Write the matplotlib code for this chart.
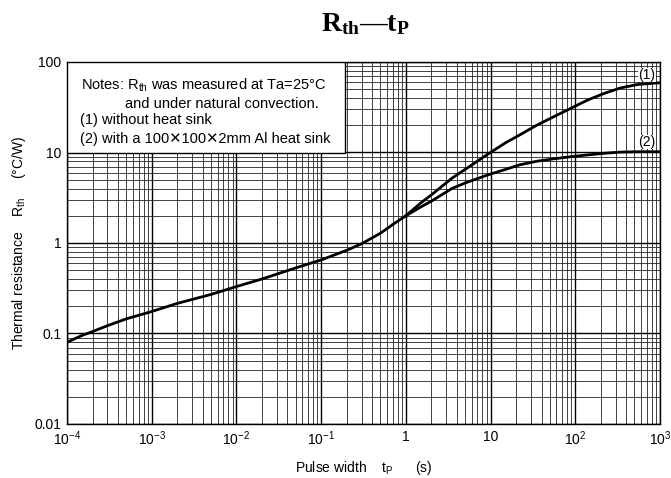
import numpy as np
import matplotlib.pyplot as plt
from matplotlib.ticker import LogLocator, NullFormatter, FixedLocator

plt.rcParams['font.family'] = ['Liberation Sans', 'DejaVu Sans']
plt.rcParams['mathtext.fontset'] = 'custom'
plt.rcParams['mathtext.rm'] = 'Liberation Sans'
plt.rcParams['mathtext.it'] = 'Liberation Sans:italic'
plt.rcParams['mathtext.bf'] = 'Liberation Serif:bold'

# shared part of the curve (pulse width s, Rth C/W)
tp_common = [1e-4, 1.5e-4, 2e-4, 3e-4, 5e-4, 1e-3, 2e-3, 5e-3, 1e-2, 2e-2, 5e-2,
             0.1, 0.2, 0.3, 0.5, 0.7, 1.0]
rth_common = [0.080, 0.095, 0.105, 0.122, 0.145, 0.175, 0.215, 0.27, 0.33, 0.40, 0.53,
              0.65, 0.83, 0.98, 1.28, 1.6, 2.0]

# branches after ~1 s
tp_branch = [1.0, 1.5, 2, 3.5, 5, 9, 15, 22, 35, 55, 90, 140, 220, 340, 550, 1000]
rth_1 = [2.0, 2.77, 3.4, 5.2, 6.5, 9.4, 12.8, 15.6, 20, 24.7, 31, 38, 45, 51.6, 56.5, 59]  # no heat sink
rth_2 = [2.0, 2.5, 2.9, 4.0, 4.6, 5.6, 6.5, 7.3, 8.0, 8.5, 9.0, 9.4, 9.8, 10.1, 10.2, 10.2]  # Al sink

xticks = [1e-4, 1e-3, 1e-2, 1e-1, 1, 10, 1e2, 1e3]
xlabels = ['10$^{-4}$', '10$^{-3}$', '10$^{-2}$', '10$^{-1}$', '1', '10', '10$^{2}$', '10$^{3}$']
yticks = [0.01, 0.1, 1, 10, 100]
ylabels = ['0.01', '0.1', '1', '10', '100']

fig = plt.figure(figsize=(6.71, 4.78), dpi=100)
ax = fig.add_axes([0.0999, 0.113, 0.8837, 0.7573])
ax.set_xscale('log')
ax.set_yscale('log')
ax.set_xlim(1e-4, 1e3)
ax.set_ylim(0.01, 100)

ax.xaxis.set_major_locator(FixedLocator(xticks))
ax.set_xticklabels(xlabels)
ax.yaxis.set_major_locator(FixedLocator(yticks))
ax.set_yticklabels(ylabels)
ax.xaxis.set_minor_locator(LogLocator(base=10, subs=np.arange(2, 10), numticks=20))
ax.yaxis.set_minor_locator(LogLocator(base=10, subs=np.arange(2, 10), numticks=20))
ax.xaxis.set_minor_formatter(NullFormatter())
ax.yaxis.set_minor_formatter(NullFormatter())
ax.tick_params(which='both', length=0, labelsize=10, pad=4)

ax.grid(which='major', color='black', linewidth=1.0)
ax.grid(which='minor', color='#222222', linewidth=0.6)
for s in ax.spines.values():
    s.set_linewidth(1.0)

ax.plot(tp_common, rth_common, color='black', linewidth=2.0, zorder=3)
ax.plot(tp_branch, rth_1, color='black', linewidth=2.0, zorder=3)
ax.plot(tp_branch, rth_2, color='black', linewidth=2.0, zorder=3)

ax.text(0.978, 0.964, '(1)', transform=ax.transAxes, ha='center', va='center',
        fontsize=10, zorder=4, bbox=dict(facecolor='white', edgecolor='none', pad=0.3))
ax.text(0.978, 0.779, '(2)', transform=ax.transAxes, ha='center', va='center',
        fontsize=10, zorder=4, bbox=dict(facecolor='white', edgecolor='none', pad=0.3))

# notes box
box = plt.Rectangle((0, 0.749), 0.469, 0.251, transform=ax.transAxes,
                    facecolor='white', edgecolor='black', linewidth=1.0, zorder=4)
ax.add_patch(box)
notes = [
    (0.024, 0.937, 'Notes: R$_{\\rm th}$ was measured at Ta=25\u00b0C'),
    (0.098, 0.884, 'and under natural convection.'),
    (0.022, 0.840, '(1) without heat sink'),
    (0.022, 0.788, '(2) with a 100\u2715100\u27152mm Al heat sink'),
]
for x, y, t in notes:
    ax.text(x, y, t, transform=ax.transAxes, fontsize=10.5, va='center', ha='left', zorder=5)

ax.set_xlabel('Pulse width    t$_{\\rm P}$      (s)', fontsize=10, labelpad=8)
ax.set_ylabel('Thermal resistance    R$_{\\rm th}$     (\u00b0C/W)', fontsize=10, labelpad=5)

fig.text(0.545, 0.95, '$\\mathbf{R_{th}}$\u2014$\\mathbf{t_{P}}$', ha='center', va='center',
         fontsize=20, fontweight='bold', family=['Liberation Serif', 'DejaVu Serif'])

fig.savefig('out.png', dpi=100)
